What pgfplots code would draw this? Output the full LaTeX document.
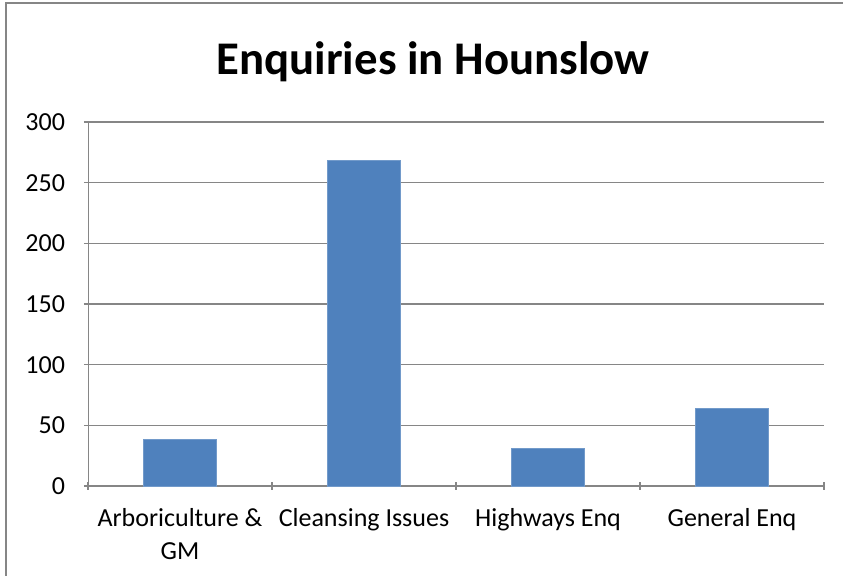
\documentclass[border=0pt]{standalone}
\usepackage{pgfplots}
\pgfplotsset{compat=1.18}
\usepackage{fontspec}
\setmainfont{Carlito}
\definecolor{barblue}{HTML}{4F81BD}
\definecolor{axisgray}{HTML}{868686}
\begin{document}
\begin{tikzpicture}
\begin{axis}[
    name=ax,
    at={(0,0)}, anchor=south west,
    scale only axis,
    width=368pt, height=182pt,
    xmin=0.5, xmax=4.5,
    ymin=0, ymax=300,
    ytick={0,50,...,300},
    xtick={1,2,3,4},
    xticklabels={{Arboriculture \&\\GM},{Cleansing Issues},{Highways Enq},{General Enq}},
    minor xtick={0.5,1.5,2.5,3.5,4.5},
    major x tick style={draw=none},
    minor tick length=4pt,
    major tick length=4pt,
    tick align=outside,
    axis lines=left,
    axis line style={axisgray, -},
    every tick/.style={axisgray, line width=0.6pt},
    ymajorgrids,
    grid style={axisgray, line width=0.6pt},
    xticklabel style={align=center, font=\fontsize{13}{16.5}\selectfont, yshift=-5.5pt},
    yticklabel style={font=\fontsize{13}{15.5}\selectfont, xshift=-6pt},
    /pgf/number format/assume math mode=true,
    ytick pos=left, xtick pos=bottom,
    clip=false,
]
\addplot[ybar, bar width=0.4, fill=barblue, draw=barblue!80!white] coordinates {
    (1,38) (2,268) (3,31) (4,64)
};
\end{axis}
\useasboundingbox (-44pt,-45pt) rectangle (377.5pt,243pt);
\draw[axisgray, line width=0.8pt] (-41pt,-45pt) -- (-41pt,241.5pt) -- (377.5pt,241.5pt);
\node[anchor=base, font=\fontsize{23.4}{28}\selectfont\bfseries] at (172.5pt,205.5pt) {Enquiries in Hounslow};
\end{tikzpicture}
\end{document}
